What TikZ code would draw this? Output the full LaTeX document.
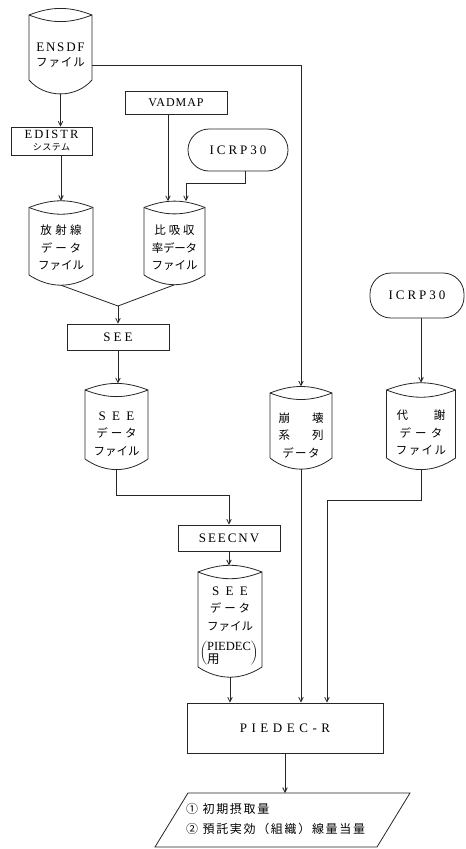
\documentclass[tikz,border=0pt]{standalone}
\usepackage{fontspec}
\setmainfont{Liberation Serif}
\newfontfamily\jp{Noto Sans CJK JP}
\usetikzlibrary{arrows.meta,calc}
\newcommand\lsp[1]{\addfontfeatures{LetterSpace=#1}}
\newcommand\J[2][0]{{\jp\addfontfeatures{LetterSpace=#1}#2}}
\tikzset{
  ln/.style={line width=0.8pt, draw=black!85},
  arr/.style={ln, -{Straight Barb[length=4.5pt,width=4.5pt]}},
  box/.style={draw=black!85, line width=0.8pt, inner sep=0, align=center, font=\fontsize{13}{14}\selectfont},
  term/.style={box, rounded corners=21pt},
  body/.style={inner sep=0, outer sep=0, draw=none},
  dtext/.style={align=center, inner sep=0, font=\fontsize{11.5}{17.5}\selectfont},
}
\newcommand\drum[6]{%
  \node[body, minimum width={2*#3}, minimum height={#5-#4}] (#1) at (#2,{(#4+#5)/2}) {};
  \draw[ln] (#1.south west) -- (#1.north west) to[bend left=21] (#1.north east) -- (#1.south east) to[bend left=#6] (#1.south west);
  \draw[ln] (#1.north west) to[bend right=21] (#1.north east);
  \coordinate (#1-top) at ($(#1.north)+(0,{-0.5872*#3*sin(21)})$);
  \coordinate (#1-bot) at ($(#1.south)+(0,{0.5872*#3*sin(#6)})$);
}
\begin{document}
\begin{tikzpicture}[x=1pt,y=-1pt]
\useasboundingbox (0,0) rectangle (466,849);
\fill[white] (0,0) rectangle (466,849);

% drums
\drum{ensdf}{60.5}{31.5}{15}{80}{49}
\drum{hosha}{61}{32}{207.5}{275}{33}
\drum{hikyu}{174.5}{30.5}{207.5}{275}{33}
\drum{seedata}{116.5}{31.5}{390}{459}{35}
\drum{hokai}{301}{31}{393}{458}{38}
\drum{taisha}{421}{34.5}{390}{458}{35}
\drum{seepd}{230}{32}{572}{667}{33}

\node[dtext, font=\fontsize{13}{15}\selectfont] (ensdf-t) at (60.5,55) {{\lsp{14}ENSDF}\\{\fontsize{11.5}{15}\selectfont\J[8]{ファイル}}};
\node[dtext] (hosha-t) at (61,248) {\J[30]{放射線}\\\J[25]{データ}\\\J{ファイル}};
\node[dtext] (hikyu-t) at (174.5,248) {\J[25]{比吸収}\\\J[-2]{率データ}\\\J{ファイル}};
\node[dtext] (seedata-t) at (116.5,434) {{\fontsize{13}{17.5}\selectfont\lsp{48}SEE}\\\J[25]{データ}\\\J{ファイル}};
\node[dtext] (hokai-t) at (301,435) {\J{崩\hspace{22pt}壊}\\\J{系\hspace{22pt}列}\\\J[12]{データ}};
\node[dtext] (taisha-t) at (421,433) {\J{代\hspace{26pt}謝}\\\J[35]{データ}\\\J[12]{ファイル}};
\node[dtext] (seepd-t) at (230,609) {{\fontsize{13}{17.5}\selectfont\lsp{48}SEE}\\\J[25]{データ}\\\J{ファイル}};
\node[inner sep=0, font=\fontsize{12.5}{12.5}\selectfont] (seepd-p) at (229,653)
  {$\left(\vcenter{\baselineskip=13pt\hbox{PIEDEC}\hbox{\jp 用}}\right)$};

% boxes
\node[box, minimum width=81, minimum height=28] (edistr) at (51.5,141) {{\fontsize{12.5}{13}\selectfont\lsp{16}EDISTR}\\[-2pt]{\jp\fontsize{9}{9}\selectfont\addfontfeatures{LetterSpace=5}システム}};
\node[box, minimum width=102, minimum height=23] (vadmap) at (176,102.5) {{\fontsize{12}{13}\selectfont\lsp{8}VADMAP}};
\node[term, minimum width=100, minimum height=42] (icrpL) at (238,150) {{\lsp{23}ICRP30}};
\node[box, minimum width=102, minimum height=26] (see) at (118,337) {{\lsp{23}SEE}};
\node[term, minimum width=94, minimum height=45] (icrpR) at (417,295.5) {{\lsp{23}ICRP30}};
\node[box, minimum width=102, minimum height=26] (seecnv) at (229,538) {{\lsp{15}SEECNV}};
\node[box, minimum width=196, minimum height=50] (piedec) at (285,728) {{\lsp{35}PIEDEC-R}};

% output parallelogram
\coordinate (out-nw) at (188,793);
\coordinate (out-ne) at (410,793);
\coordinate (out-se) at (377,847);
\coordinate (out-sw) at (155,847);
\draw[ln] (out-nw) -- (out-ne) -- (out-se) -- (out-sw) -- cycle;
\node[anchor=west, align=left, inner sep=0, font=\fontsize{12}{20}\selectfont] (out) at (186,819)
  {\J[14]{①\ 初期摂取量}\\\J[14]{②\ 預託実効（組織）線量当量}};

% connectors
\draw[arr] (ensdf.east |- 0,65) -| (hokai-top);
\draw[arr] (ensdf-bot) -- (ensdf-bot |- edistr.north);
\draw[arr] (edistr.south -| hosha-top) -- (hosha-top);
\draw[arr] ([xshift=-8pt]vadmap.south) -- ([xshift=-8pt]vadmap.south |- hikyu-top);
\draw[arr] ([xshift=7pt]icrpL.south) -- ++(0,12) -| ([xshift=11.5pt]hikyu-top);
\coordinate (merge) at (118,306);
\draw[ln] (hosha-bot) -- (merge) -- (hikyu-bot);
\draw[arr] (merge) -- (see.north);
\draw[arr] (see.south) -- (see.south |- seedata-top);
\draw[arr] (seedata-bot) -- ++(0,26) -| (seecnv.north);
\draw[arr] (seecnv.south) -- (seecnv.south |- seepd-top);
\draw[arr] (seepd-bot) -- (seepd-bot |- piedec.north);
\draw[arr] (hokai-bot) -- (hokai-bot |- piedec.north);
\draw[arr] (icrpR.south -| taisha-top) -- (taisha-top);
\draw[arr] (taisha-bot) -- ++(0,31) -| ([xshift=42pt]piedec.north);
\draw[arr] (piedec.south) -- (piedec.south |- out-nw);
\end{tikzpicture}
\end{document}
